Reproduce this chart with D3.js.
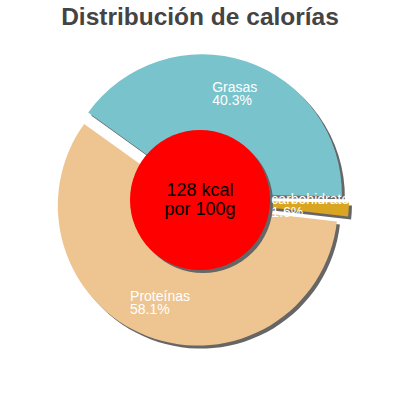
<!DOCTYPE html>
<html>
<head>
<meta charset="utf-8">
<script src="https://cdn.jsdelivr.net/npm/d3@7"></script>
<style>
  html, body { margin: 0; padding: 0; background: #fff; }
  svg { display: block; }
</style>
</head>
<body>
<svg id="chart" width="400" height="400"></svg>
<script>
const title = "Distribución de calorías";
const categories = ["Grasas", "carbohidratos", "Proteínas"];
const values = [40.3, 1.6, 58.1];
const colors = ["#79C4CC", "#DAA520", "#EEC591"];
const explode = [6, 9, 6];
const centerLines = ["128 kcal", "por 100g"];

const W = 400, H = 400;
const cx = 200, cy = 200, R = 140, innerR = 70;
const deg = Math.PI / 180;
const start = -54.3 * deg;

const svg = d3.select("#chart");

svg.append("text")
  .attr("x", W / 2).attr("y", 25)
  .attr("text-anchor", "middle")
  .attr("font-family", "Liberation Sans, Arial, sans-serif")
  .attr("font-weight", "bold")
  .attr("font-size", 24.5)
  .attr("fill", "#444")
  .text(title);

const data = categories.map((c, i) => ({ name: c, value: values[i], color: colors[i], off: explode[i] }));
const pie = d3.pie().sort(null).value(d => d.value).startAngle(start).endAngle(start + 2 * Math.PI);
const arcs = pie(data);
const arc = d3.arc().innerRadius(0).outerRadius(R);

function offset(d) {
  const a = (d.startAngle + d.endAngle) / 2;
  return [Math.sin(a) * d.data.off, -Math.cos(a) * d.data.off];
}

const g = svg.append("g").attr("transform", `translate(${cx},${cy})`);

// shadows
g.selectAll("path.shadow").data(arcs).join("path")
  .attr("class", "shadow")
  .attr("d", arc)
  .attr("fill", "#666")
  .attr("transform", d => { const o = offset(d); return `translate(${o[0] + 3},${o[1] + 3})`; });

// slices
g.selectAll("path.slice").data(arcs).join("path")
  .attr("class", "slice")
  .attr("d", arc)
  .attr("fill", d => d.data.color)
  .attr("transform", d => { const o = offset(d); return `translate(${o[0]},${o[1]})`; });

// center circle
g.append("circle").attr("cx", 3).attr("cy", 3).attr("r", innerR).attr("fill", "#666");
g.append("circle").attr("cx", 0).attr("cy", 0).attr("r", innerR).attr("fill", "#ff0000");

// labels
const labelArc = d3.arc().innerRadius(105).outerRadius(105);
arcs.forEach(d => {
  const o = offset(d);
  const c = labelArc.centroid(d);
  const x = c[0] + o[0], y = c[1] + o[1];
  const t = g.append("text")
    .attr("font-family", "Liberation Sans, Arial, sans-serif")
    .attr("font-size", 14)
    .attr("fill", "#fff");
  const l1 = t.append("tspan").attr("y", y - 3).text(d.data.name);
  const l2 = t.append("tspan").attr("y", y + 10).text(d3.format(".1f")(d.data.value) + "%");
  const w = Math.max(l1.node().getComputedTextLength(), l2.node().getComputedTextLength());
  l1.attr("x", x - w / 2);
  l2.attr("x", x - w / 2);
});

// center text
centerLines.forEach((s, i) => {
  g.append("text")
    .attr("x", 0).attr("y", -4 + i * 19)
    .attr("text-anchor", "middle")
    .attr("font-family", "Liberation Sans, Arial, sans-serif")
    .attr("font-size", 18)
    .attr("fill", "#000")
    .text(s);
});
</script>
</body>
</html>
